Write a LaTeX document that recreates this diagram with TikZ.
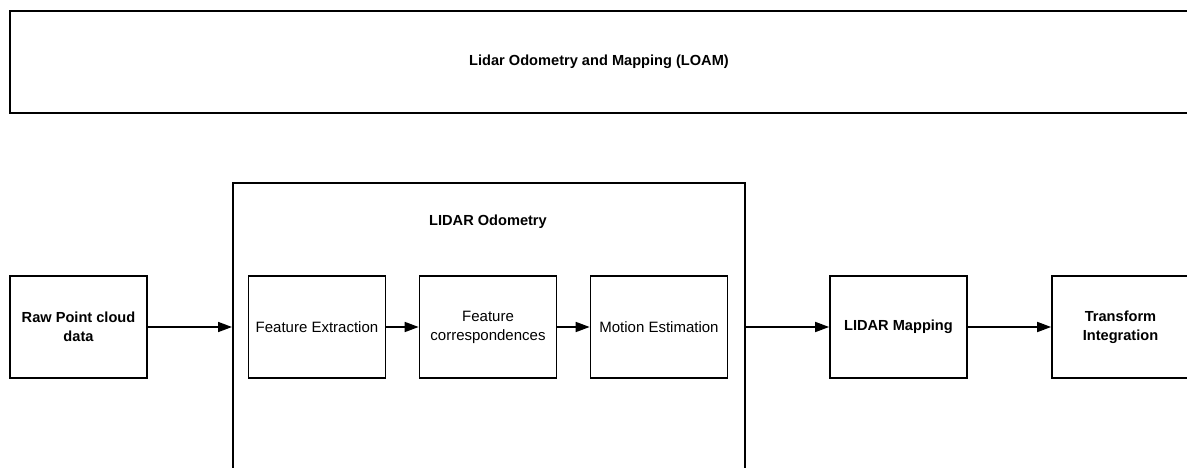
\documentclass[tikz,border=0pt]{standalone}
\usepackage{fontspec}
\setmainfont{Liberation Sans}
\usetikzlibrary{arrows.meta}

\begin{document}
\begin{tikzpicture}[x=1pt,y=-1pt]
	\tikzstyle{every node}+=[inner sep=0pt]
	\tikzstyle{block}=[draw=black, line width=1.7pt, minimum width=137pt, minimum height=102pt, align=center, font=\fontsize{15}{19}\selectfont]
	\tikzstyle{boldblock}=[block, font=\fontsize{14.6}{19}\selectfont\bfseries]
	\tikzstyle{flow}=[draw=black, line width=1.7pt, -{Triangle[length=14pt,width=10pt]}]
	\useasboundingbox (0,0) rectangle (1187,468);
	\clip (0,0) rectangle (1187,468);
	% overall title box, runs off the right edge
	\node [boldblock, minimum width=1178pt] (loam) at (599,62) {Lidar Odometry and Mapping (LOAM)};
	% odometry frame, runs off the bottom
	\node [block, minimum width=512pt, minimum height=400pt, anchor=north west] (odo) at (232,182) {};
	\node [font=\fontsize{14.6}{19}\selectfont\bfseries] (odotitle) at (488,222) {LIDAR Odometry};
	% pipeline
	\node [boldblock] (raw) at (78.5,327) {Raw Point cloud\\data};
	\node [block] (extract) at (317,327) {Feature Extraction};
	\node [block] (corresp) at (488,327) {Feature\\correspondences};
	\node [block] (motion) at (659,327) {Motion Estimation};
	\node [boldblock] (mapping) at (898.5,327) {LIDAR Mapping};
	\node [boldblock] (transform) at (1120.5,327) {Transform\\Integration};
	\draw [flow] (raw.east) -- (raw.east -| odo.west);
	\draw [flow] (extract) -- (corresp);
	\draw [flow] (corresp) -- (motion);
	\draw [flow] (odo.east |- mapping.west) -- (mapping);
	\draw [flow] (mapping) -- (transform);
\end{tikzpicture}
\end{document}
